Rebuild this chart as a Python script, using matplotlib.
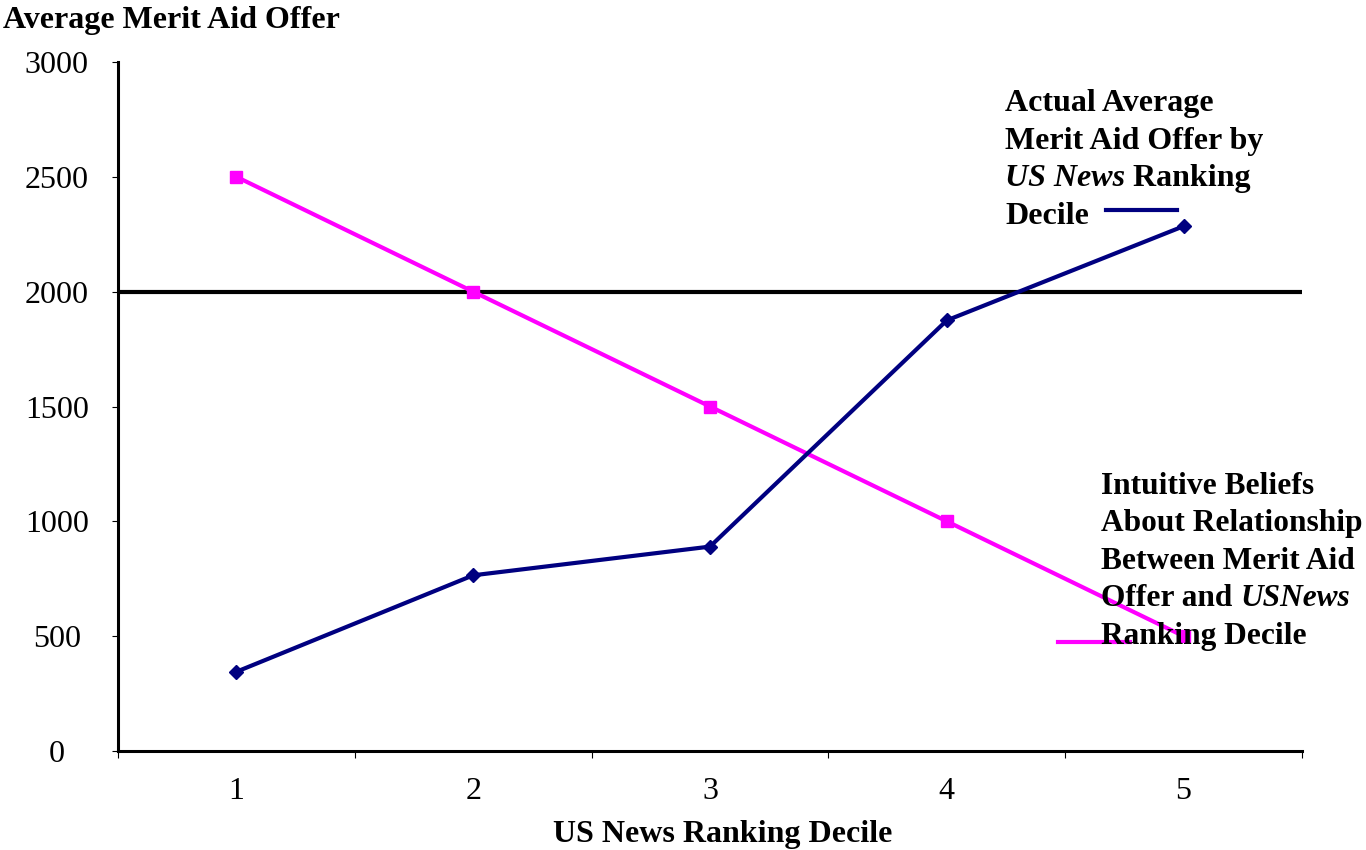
import matplotlib
matplotlib.use('Agg')
import matplotlib.pyplot as plt
import numpy as np

deciles = [1, 2, 3, 4, 5]
actual_aid = [345, 765, 890, 1875, 2285]
intuitive_aid = [2500, 2000, 1500, 1000, 500]
reference_level = 2000
y_ticks = [0, 500, 1000, 1500, 2000, 2500, 3000]

plt.rcParams['font.family'] = ['Liberation Serif', 'DejaVu Serif']
FS = 23

W, H = 1366, 850
fig = plt.figure(figsize=(W / 100, H / 100), dpi=100)
ax = fig.add_axes([118 / W, 1 - 751 / H, (1302 - 118) / W, (751 - 62) / H])

ax.axhline(reference_level, color='black', lw=3, zorder=1)
ax.plot(deciles, intuitive_aid, color='#FF00FF', lw=3, marker='s', ms=8, zorder=3)
ax.plot(deciles, actual_aid, color='#000080', lw=3, marker='D', ms=7, zorder=4)

ax.set_xlim(0.5, 5.5)
ax.set_ylim(0, 3000)

for s in ['top', 'right']:
    ax.spines[s].set_visible(False)
for s in ['left', 'bottom']:
    ax.spines[s].set_linewidth(2.2)

ax.set_xticks(deciles)
ax.set_xticklabels([str(d) for d in deciles], fontsize=FS)
ax.set_xticks(np.arange(0.5, 6, 1), minor=True)
ax.tick_params(axis='x', which='major', length=0, pad=19)
ax.tick_params(axis='x', which='minor', length=5, width=0.8, direction='out')

ax.set_yticks(y_ticks)
ax.set_yticklabels([str(v) for v in y_ticks], fontsize=FS, ha='center')
ax.tick_params(axis='y', length=4, width=0.8, direction='out', pad=40)


def fx(px):
    return px / W


def fy(py):
    return 1 - py / H


def rich_line(x, y, parts, size=FS):
    # chain text pieces so bold and italic runs sit on one line
    prev = None
    for txt, style in parts:
        kw = dict(fontsize=size, fontweight='bold', fontstyle=style)
        if prev is None:
            prev = fig.text(x, y, txt, ha='left', va='bottom', **kw)
        else:
            prev = ax.annotate(txt, xy=(1, 0), xycoords=prev, ha='left', va='bottom', **kw)
    return prev


fig.text(fx(3), fy(35), 'Average Merit Aid Offer', fontsize=FS, fontweight='bold',
         ha='left', va='bottom')
fig.text(fx(723), fy(849), 'US News Ranking Decile', fontsize=FS, fontweight='bold',
         ha='center', va='bottom')

block1 = [
    [('Actual Average', 'normal')],
    [('Merit Aid Offer by', 'normal')],
    [('US News', 'italic'), (' Ranking', 'normal')],
    [('Decile', 'normal')],
]
for i, parts in enumerate(block1):
    rich_line(fx(1005), fy(118 + i * 37.5), parts)

block2 = [
    [('Intuitive Beliefs', 'normal')],
    [('About Relationship', 'normal')],
    [('Between Merit Aid', 'normal')],
    [('Offer and ', 'normal'), ('USNews', 'italic')],
    [('Ranking Decile', 'normal')],
]
for i, parts in enumerate(block2):
    rich_line(fx(1101), fy(501 + i * 37.5), parts, size=22.6)

# legend keys
fig.add_artist(plt.Line2D([fx(1106), fx(1177)], [fy(210), fy(210)], color='#000080', lw=3))
fig.add_artist(plt.Line2D([fx(1058), fx(1130)], [fy(642), fy(642)], color='#FF00FF', lw=3))

fig.savefig('out.png', dpi=100)
